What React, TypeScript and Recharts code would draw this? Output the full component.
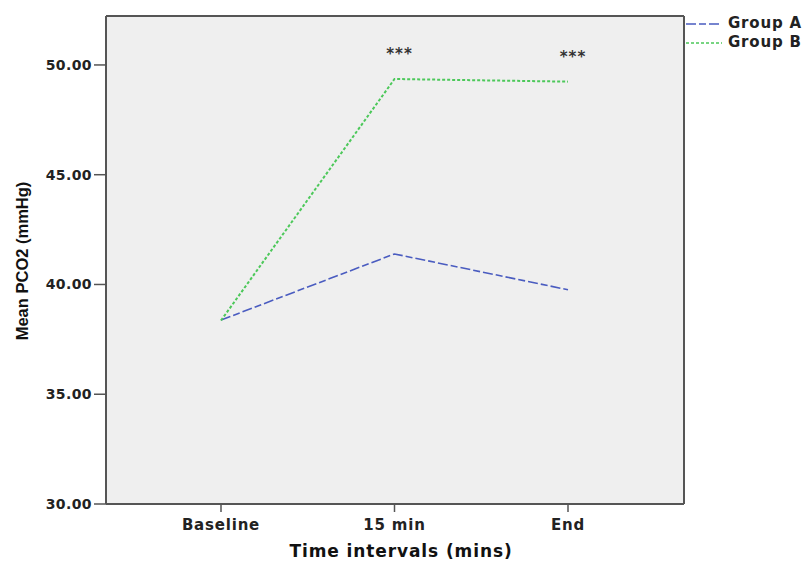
import React from 'react';
import { LineChart, Line, XAxis, YAxis, CartesianGrid, Legend, LabelList } from 'recharts';

const categories = ['Baseline', '15 min', 'End'];
const groupA = [38.38, 41.39, 39.76];
const groupB = [38.36, 49.36, 49.24];
const significance = ['', '***', '***'];
const yTicks = [30, 35, 40, 45, 50];
const seriesNames = ['Group A', 'Group B'];
const yDomain = [30, 52.23];

const data = categories.map((c, i) => ({ time: c, a: groupA[i], b: groupB[i], sig: significance[i] }));

const BLUE = '#4a5cc0';
const GREEN = '#4cc85a';
const AXIS = '#555555';
const FONT = '"DejaVu Sans", Verdana, sans-serif';
const DASH_A = '10 3 7 3';
const DASH_B = '3 2';

const YTick = (props: any) => {
  const { x, y, payload } = props;
  return (
    <text x={x} y={y} dy={5} textAnchor="end" fontFamily={FONT} fontWeight="bold" fontSize={14} letterSpacing={0.4} fill="#222">
      {Number(payload.value).toFixed(2)}
    </text>
  );
};

const XTick = (props: any) => {
  const { x, y, payload } = props;
  return (
    <text x={x} y={y} dy={16} textAnchor="middle" fontFamily={FONT} fontWeight="bold" fontSize={15} letterSpacing={0.8} fill="#222">
      {payload.value}
    </text>
  );
};

const StarLabel = (props: any) => {
  const { x, y, value } = props;
  if (!value) return null;
  return (
    <text x={x + 5} y={y - 20} textAnchor="middle" fontFamily={FONT} fontWeight="bold" fontSize={15} letterSpacing={1} fill="#333">
      {value}
    </text>
  );
};

const renderLegend = () => {
  const items = [
    { name: seriesNames[0], color: BLUE, dash: DASH_A },
    { name: seriesNames[1], color: GREEN, dash: DASH_B },
  ];
  return (
    <div style={{ display: 'flex', flexDirection: 'column' }}>
      {items.map((it) => (
        <div key={it.name} style={{ display: 'flex', alignItems: 'center', height: 19 }}>
          <svg width={36} height={6} style={{ display: 'block' }}>
            <line x1={0} y1={3} x2={36} y2={3} stroke={it.color} strokeWidth={1.5} strokeDasharray={it.dash} />
          </svg>
          <span style={{ marginLeft: 6, fontFamily: FONT, fontWeight: 'bold', fontSize: 15, letterSpacing: 0.8, color: '#222', whiteSpace: 'nowrap', lineHeight: '19px' }}>
            {it.name}
          </span>
        </div>
      ))}
    </div>
  );
};

export default function App() {
  return (
    <div style={{ position: 'absolute', left: 0, top: 0, width: 807, height: 561, background: '#fff' }}>
      <LineChart width={807} height={561} data={data} margin={{ top: 15, right: 1, bottom: 0, left: 0 }}>
        <CartesianGrid horizontal={false} vertical={false} fill="#efefef" />
        <XAxis
          dataKey="time"
          type="category"
          scale="point"
          padding={{ left: 115, right: 116 }}
          height={57}
          tickSize={8}
          tickLine={{ stroke: AXIS, strokeWidth: 1.5 }}
          axisLine={{ stroke: AXIS, strokeWidth: 2 }}
          tick={<XTick />}
          interval={0}
          label={{
            content: () => (
              <text x={401} y={557} textAnchor="middle" fontFamily={FONT} fontWeight="bold" fontSize={17} letterSpacing={0.9} fill="#111">
                Time intervals (mins)
              </text>
            ),
          }}
        />
        <XAxis xAxisId="top" orientation="top" dataKey="time" height={1} tick={false} tickLine={false} axisLine={{ stroke: AXIS, strokeWidth: 2 }} />
        <YAxis
          type="number"
          domain={yDomain}
          ticks={yTicks}
          allowDataOverflow
          width={106}
          tickSize={12}
          tickMargin={2}
          tickLine={{ stroke: AXIS, strokeWidth: 1.5 }}
          axisLine={{ stroke: AXIS, strokeWidth: 2 }}
          tick={<YTick />}
          label={{
            content: () => (
              <text x={28} y={261} transform="rotate(-90 28 261)" textAnchor="middle" fontFamily='"Liberation Sans", Arial, sans-serif' fontWeight="bold" fontSize={16.5} fill="#111">
                Mean PCO2 (mmHg)
              </text>
            ),
          }}
        />
        <YAxis yAxisId="right" orientation="right" type="number" domain={yDomain} width={1} tick={false} tickLine={false} axisLine={{ stroke: AXIS, strokeWidth: 2 }} />
        <Legend content={renderLegend} layout="vertical" align="right" verticalAlign="top" wrapperStyle={{ position: 'absolute', left: 686, top: 14, width: 121 }} />
        <Line dataKey="a" name={seriesNames[0]} stroke={BLUE} strokeWidth={1.6} strokeDasharray={DASH_A} dot={false} activeDot={false} isAnimationActive={false} />
        <Line dataKey="b" name={seriesNames[1]} stroke={GREEN} strokeWidth={2} strokeDasharray={DASH_B} dot={false} activeDot={false} isAnimationActive={false}>
          <LabelList dataKey="sig" content={<StarLabel />} />
        </Line>
      </LineChart>
    </div>
  );
}
